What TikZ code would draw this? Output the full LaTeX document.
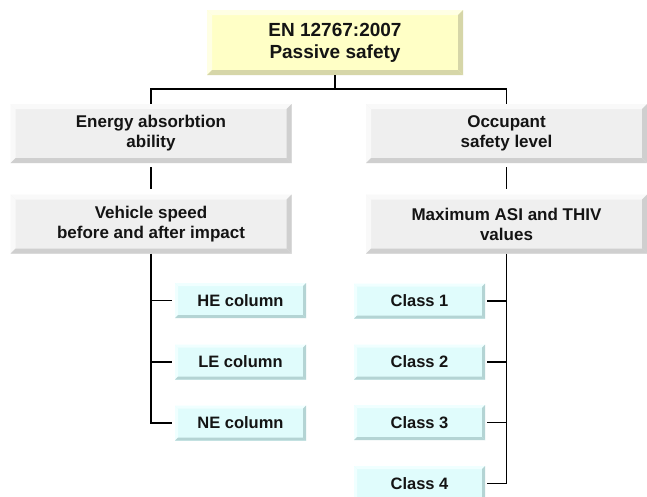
\documentclass[tikz,border=0pt]{standalone}
\usepackage{fontspec}
\setmainfont{Liberation Sans}
\definecolor{titlefill}{HTML}{FFFFC6}
\definecolor{titlelight}{HTML}{FFFFE4}
\definecolor{titledark}{HTML}{D6D6A8}
\definecolor{grayfill}{HTML}{EFEFEF}
\definecolor{graylight}{HTML}{F9F9F9}
\definecolor{graydark}{HTML}{CFCFCF}
\definecolor{leaffill}{HTML}{E0FCFC}
\definecolor{leaflight}{HTML}{F0FFFF}
\definecolor{leafdark}{HTML}{B4D4D4}
\tikzset{
  bevelbox/.style n args={4}{
    fill=#1, inner sep=0pt, align=center, text=black!92,
    path picture={
      \coordinate (bbnw) at (path picture bounding box.north west);
      \coordinate (bbne) at (path picture bounding box.north east);
      \coordinate (bbsw) at (path picture bounding box.south west);
      \coordinate (bbse) at (path picture bounding box.south east);
      \fill[#2] (bbnw) -- (bbne) -- ([xshift=-#4,yshift=-#4]bbne)
                -- ([xshift=#4,yshift=-#4]bbnw) -- cycle;
      \fill[#2] (bbnw) -- ([xshift=#4,yshift=-#4]bbnw)
                -- ([xshift=#4,yshift=#4]bbsw) -- (bbsw) -- cycle;
      \fill[#3] (bbne) -- (bbse) -- ([xshift=-#4,yshift=#4]bbse)
                -- ([xshift=-#4,yshift=-#4]bbne) -- cycle;
      \fill[#3] (bbsw) -- (bbse) -- ([xshift=-#4,yshift=#4]bbse)
                -- ([xshift=#4,yshift=#4]bbsw) -- cycle;
    }},
  titlebox/.style={bevelbox={titlefill}{titlelight}{titledark}{5pt},
    minimum width=256pt, minimum height=65pt,
    font=\bfseries\fontsize{19}{22}\selectfont},
  levelbox/.style={bevelbox={grayfill}{graylight}{graydark}{5pt},
    minimum width=281pt, minimum height=59pt,
    font=\bfseries\fontsize{17}{20}\selectfont},
  leafbox/.style={bevelbox={leaffill}{leaflight}{leafdark}{3pt},
    minimum width=131pt, minimum height=35pt,
    font=\bfseries\fontsize{16.5}{19}\selectfont},
  link/.style={line width=1.8pt, black}
}
\begin{document}
\begin{tikzpicture}[x=1pt,y=-1pt]
\useasboundingbox[fill=white] (0,0) rectangle (647,496);
% top of the tree
\node[titlebox] (title) at (335,42.5) {EN 12767:2007\\Passive safety};
% left hand
\node[levelbox] (energy) at (151,133.5) {Energy absorbtion\\ability};
\node[levelbox] (speed) at (151,224) {Vehicle speed\\before and after impact};
\node[leafbox] (he) at (240.5,300.5) {HE column};
\node[leafbox] (le) at (240.5,362) {LE column};
\node[leafbox] (ne) at (240.5,423) {NE column};
% right hand
\node[levelbox] (occupant) at (506.5,133.5) {Occupant\\safety level};
\node[levelbox] (asi) at (506.5,224) {Maximum ASI and THIV\\values};
\node[leafbox] (c1) at (419.5,301) {Class 1};
\node[leafbox] (c2) at (419.5,362) {Class 2};
\node[leafbox] (c3) at (419.5,422.5) {Class 3};
\node[leafbox] (c4) at (419.5,483.5) {Class 4};
% trunk
\coordinate (split) at (335,89);
\draw[link] (title) -- (split);
\draw[link] (energy.north) |- (split) -| (occupant.north);
\draw[link, shorten <=4pt, shorten >=5pt] (energy) -- (speed);
\draw[link, shorten <=4pt, shorten >=5pt] (occupant) -- (asi);
% left branches
\draw[link] (speed.south) |- ([xshift=-3pt]ne.west);
\draw[link] (he.west -| speed.south) -- ([xshift=-3pt]he.west);
\draw[link] (le.west -| speed.south) -- ([xshift=-3pt]le.west);
% right branches
\draw[link] (asi.south) |- ([xshift=2pt]c4.east);
\draw[link] (c1.east -| asi.south) -- ([xshift=2pt]c1.east);
\draw[link] (c2.east -| asi.south) -- ([xshift=2pt]c2.east);
\draw[link] (c3.east -| asi.south) -- ([xshift=2pt]c3.east);
\end{tikzpicture}
\end{document}
